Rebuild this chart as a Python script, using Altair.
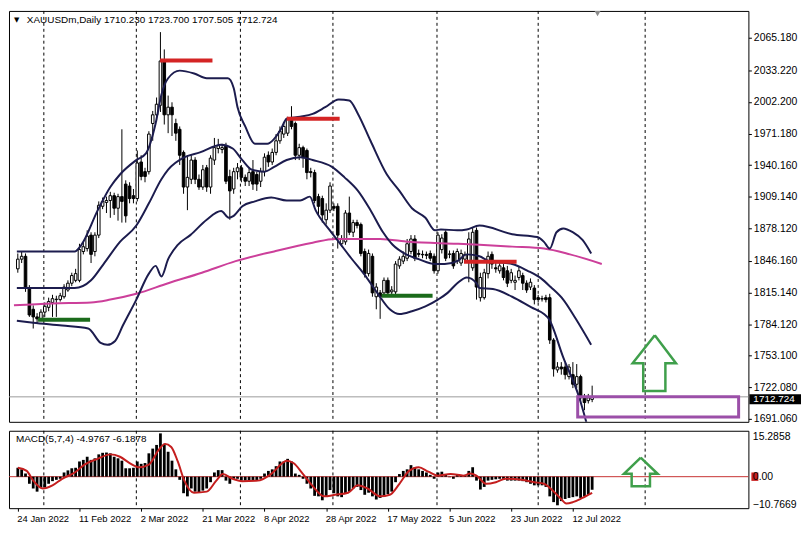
import altair as alt
import pandas as pd

W = 745
H_MAIN = 414
H_MACD = 78
FONT = "Liberation Sans"

X_DOMAIN = [-1, 188.25]
P_DOMAIN = [1688.2, 2091.6]
M_DOMAIN = [-12.0, 17.5]

# ---------------- candles (bar index 0..149) ----------------
opens = [1838.4, 1847.9, 1850.7, 1819.5, 1798.7, 1791.2, 1789.3, 1795.9, 1800.6, 1805.4,
         1808.2, 1808.2, 1811.0, 1817.6, 1824.3, 1827.1, 1827.1, 1855.4, 1858.3, 1871.5,
         1855.4, 1871.5, 1899.8, 1903.6, 1905.5, 1910.2, 1897.9, 1909.3, 1921.6, 1919.7,
         1910.2, 1907.4, 1943.3, 1933.8, 1933.8, 1981.1, 1989.6, 1999.0, 2042.5, 1989.6,
         1997.1, 1981.1, 1975.4, 1952.7, 1918.7, 1926.3, 1945.2, 1926.3, 1918.7, 1937.6,
         1918.7, 1945.2, 1956.5, 1955.6, 1959.3, 1929.1, 1916.8, 1933.8, 1937.6, 1928.2,
         1924.4, 1933.8, 1931.0, 1924.4, 1933.8, 1949.9, 1943.3, 1952.7, 1964.1, 1970.7,
         1971.6, 1985.8, 1981.1, 1949.9, 1957.4, 1954.6, 1933.8, 1932.9, 1909.3, 1907.4,
         1886.6, 1896.0, 1899.8, 1899.8, 1863.0, 1864.9, 1893.2, 1874.3, 1883.8, 1881.9,
         1855.4, 1833.7, 1850.7, 1811.0, 1814.8, 1814.8, 1827.1, 1815.8, 1815.8, 1841.3,
         1846.0, 1848.8, 1855.4, 1867.7, 1853.5, 1852.6, 1852.6, 1853.5, 1850.7, 1836.5,
         1857.3, 1874.3, 1852.6, 1853.5, 1846.0, 1844.1, 1847.9, 1846.0, 1839.4, 1876.2,
         1810.1, 1810.1, 1833.7, 1852.6, 1839.4, 1836.5, 1839.4, 1836.5, 1827.1, 1825.2,
         1829.9, 1831.8, 1824.3, 1820.5, 1819.5, 1810.1, 1809.1, 1810.1, 1810.1, 1768.5,
         1739.2, 1742.0, 1742.0, 1732.6, 1734.5, 1725.1, 1732.6, 1711.8, 1709.0, 1710.23]
highs = [1853.5, 1855.4, 1853.5, 1822.4, 1802.5, 1794.9, 1798.7, 1805.4, 1810.1, 1812.9,
         1812.0, 1814.8, 1823.3, 1827.1, 1834.6, 1838.4, 1863.0, 1864.9, 1876.2, 1874.3,
         1874.3, 1904.6, 1908.4, 1909.3, 1914.0, 1913.1, 1912.1, 1975.4, 1925.3, 1923.4,
         1916.8, 1954.6, 1949.9, 1937.6, 1973.5, 1993.4, 2006.6, 2070.8, 2053.8, 2008.5,
         2001.9, 1985.8, 1978.2, 1954.6, 1949.9, 1949.9, 1948.0, 1931.0, 1940.4, 1940.4,
         1949.9, 1966.9, 1966.0, 1961.2, 1962.2, 1935.7, 1937.6, 1942.3, 1940.4, 1931.0,
         1937.6, 1945.2, 1933.8, 1937.6, 1951.8, 1953.7, 1956.5, 1970.7, 1978.2, 1981.1,
         1987.7, 1998.1, 1983.0, 1961.2, 1959.3, 1956.5, 1937.6, 1935.7, 1912.1, 1910.2,
         1902.7, 1923.4, 1902.7, 1902.7, 1871.5, 1896.0, 1909.3, 1886.6, 1886.6, 1883.8,
         1858.3, 1857.3, 1853.5, 1824.3, 1817.6, 1829.9, 1829.9, 1821.4, 1846.0, 1850.7,
         1855.4, 1867.7, 1871.5, 1871.5, 1857.3, 1856.4, 1855.4, 1856.4, 1853.5, 1874.3,
         1872.4, 1876.2, 1856.4, 1856.4, 1858.3, 1857.3, 1855.4, 1874.3, 1879.0, 1879.0,
         1834.6, 1838.4, 1855.4, 1855.4, 1844.1, 1844.1, 1843.1, 1841.3, 1838.4, 1831.8,
         1840.3, 1834.6, 1827.1, 1829.0, 1822.4, 1812.9, 1812.0, 1812.9, 1813.9, 1770.4,
         1746.8, 1746.8, 1745.8, 1744.9, 1746.8, 1744.9, 1734.5, 1715.6, 1715.6, 1723.7]
lows = [1834.6, 1844.1, 1815.8, 1791.2, 1779.8, 1784.6, 1787.4, 1791.2, 1796.8, 1791.2,
        1791.2, 1806.3, 1809.1, 1815.8, 1821.4, 1825.2, 1825.2, 1852.6, 1855.4, 1844.1,
        1850.7, 1868.6, 1897.0, 1893.2, 1888.5, 1891.3, 1885.7, 1883.8, 1883.8, 1902.7,
        1902.7, 1904.6, 1925.3, 1923.4, 1931.0, 1964.1, 1983.0, 1992.4, 1980.1, 1971.6,
        1968.8, 1964.1, 1940.4, 1912.1, 1896.0, 1921.6, 1921.6, 1915.9, 1915.9, 1914.0,
        1912.1, 1940.4, 1951.8, 1951.8, 1921.6, 1886.6, 1912.1, 1926.3, 1923.4, 1919.7,
        1919.7, 1915.9, 1914.9, 1918.7, 1929.1, 1938.5, 1940.4, 1949.9, 1961.2, 1966.9,
        1968.8, 1975.4, 1945.2, 1945.2, 1937.6, 1926.3, 1928.2, 1902.7, 1891.3, 1883.8,
        1881.9, 1893.2, 1895.1, 1858.3, 1860.1, 1862.0, 1871.5, 1869.6, 1878.1, 1850.7,
        1829.9, 1830.9, 1811.0, 1798.7, 1789.3, 1811.0, 1812.0, 1812.0, 1812.9, 1838.4,
        1843.1, 1846.0, 1852.6, 1846.0, 1849.8, 1848.8, 1847.9, 1846.0, 1833.7, 1833.7,
        1853.5, 1846.0, 1848.8, 1838.4, 1843.1, 1841.3, 1844.1, 1825.2, 1836.5, 1808.2,
        1806.3, 1808.2, 1829.0, 1838.4, 1834.6, 1833.7, 1827.1, 1820.5, 1824.3, 1817.6,
        1827.1, 1817.6, 1814.8, 1817.6, 1803.5, 1805.4, 1806.3, 1805.4, 1764.7, 1732.6,
        1736.4, 1734.5, 1729.8, 1729.8, 1721.3, 1721.3, 1706.2, 1699.6, 1706.2, 1707.505]
closes = [1847.9, 1850.7, 1819.5, 1793.1, 1791.2, 1789.3, 1795.9, 1801.6, 1806.3, 1809.1,
          1808.6, 1812.0, 1820.5, 1824.3, 1831.8, 1833.7, 1857.3, 1860.1, 1870.5, 1852.6,
          1871.5, 1900.8, 1904.6, 1905.5, 1910.2, 1897.9, 1909.3, 1904.6, 1890.4, 1907.4,
          1907.4, 1942.3, 1929.1, 1929.1, 1970.7, 1989.6, 2000.0, 2042.5, 1989.6, 1997.1,
          1989.6, 1971.6, 1949.9, 1918.7, 1928.2, 1945.2, 1926.3, 1918.7, 1935.7, 1918.7,
          1947.1, 1957.4, 1959.3, 1957.4, 1924.4, 1914.9, 1933.8, 1937.6, 1928.2, 1924.4,
          1932.9, 1921.6, 1921.6, 1933.8, 1948.0, 1943.3, 1952.7, 1964.1, 1973.5, 1978.2,
          1985.8, 1978.2, 1949.9, 1957.4, 1948.0, 1932.9, 1932.9, 1905.5, 1899.8, 1891.3,
          1896.0, 1919.7, 1897.9, 1871.5, 1867.7, 1893.2, 1874.3, 1883.8, 1880.9, 1853.5,
          1833.7, 1853.5, 1814.8, 1820.5, 1811.0, 1827.1, 1814.8, 1817.6, 1843.1, 1847.9,
          1850.7, 1863.0, 1867.7, 1848.8, 1852.6, 1852.2, 1851.6, 1848.8, 1836.5, 1871.5,
          1868.6, 1848.8, 1853.0, 1841.3, 1855.4, 1853.5, 1852.6, 1867.7, 1874.3, 1820.5,
          1829.9, 1834.6, 1850.7, 1843.1, 1838.4, 1841.3, 1829.9, 1824.3, 1834.6, 1827.1,
          1836.5, 1824.3, 1817.6, 1825.2, 1808.2, 1808.2, 1808.8, 1808.2, 1768.5, 1740.2,
          1742.0, 1740.2, 1734.5, 1742.0, 1725.1, 1732.6, 1711.8, 1707.1, 1711.8, 1712.724]

# ---------------- indicators ----------------
bb_upper_i = [-0.25, 14.75, 16.5, 20.75, 24, 26.5, 30.75, 33.25, 35.75, 37.25, 39, 42, 45.75, 49,
              54.5, 56, 57, 59, 61.5, 64.75, 66.5, 68.25, 69.75, 73.25, 76.5, 79.75, 83.25, 86,
              88.25, 91.5, 95.75, 99, 102.25, 105.75, 108.25, 109.75, 114, 116.5, 119.75, 128.25,
              134.75, 136.5, 138, 139.75, 141.5, 144, 146.5, 148.75]
bb_upper_p = [1855.4, 1855.4, 1862.0, 1896.0, 1918.7, 1931.0, 1945.2, 1951.8, 1981.1, 2009.4,
              2025.5, 2033.0, 2030.2, 2025.5, 2025.5, 2016.0, 1997.1, 1978.2, 1961.2, 1961.2,
              1966.0, 1975.4, 1985.8, 1987.7, 1990.5, 1997.1, 2004.7, 2003.7, 1990.5, 1964.1,
              1931.0, 1914.9, 1897.9, 1888.5, 1876.2, 1877.1, 1876.2, 1877.1, 1880.9, 1872.4,
              1869.6, 1864.9, 1858.3, 1874.3, 1878.1, 1874.3, 1866.8, 1853.5]
bb_mid_i = [-0.25, 14.75, 19, 22.25, 26.5, 30.75, 34, 37.25, 39, 43.25, 47.25, 52.75, 55.75,
            58.25, 60.75, 64, 66.5, 69.75, 73.25, 76.5, 81.5, 84.75, 88.25, 91.5, 94.75, 97.25,
            100.75, 104, 108.25, 110.75, 114, 116.5, 119.75, 122.25, 128.25, 132.25, 135.75,
            138.25, 141.5, 144.75, 148.75]
bb_mid_p = [1819.5, 1819.5, 1827.1, 1843.1, 1864.9, 1880.9, 1902.7, 1926.3, 1935.7, 1948.0,
            1952.7, 1960.3, 1956.5, 1945.2, 1935.7, 1933.8, 1938.5, 1945.2, 1948.0, 1945.2,
            1938.5, 1928.2, 1914.9, 1896.0, 1874.3, 1862.0, 1852.6, 1847.9, 1843.1, 1843.1,
            1846.0, 1852.6, 1850.7, 1846.0, 1843.1, 1836.5, 1829.0, 1820.5, 1808.2, 1789.3,
            1763.8]
bb_low_i = [-0.25, 4, 11.5, 18.25, 21.5, 23.25, 25.25, 27.25, 30.75, 34, 35.75, 37.25, 39, 41.5,
            44.75, 49, 52.75, 54.75, 56, 58.25, 61.5, 65.75, 69.75, 73.25, 75.75, 77.25, 80.75,
            83.25, 86.5, 89.75, 93.25, 96.5, 99, 102.25, 105.75, 109, 111.5, 114, 116.5, 119,
            119.75, 123.25, 128.25, 133.25, 136.5, 137.75, 141.5, 145.75, 148]
bb_low_p = [1787.4, 1785.5, 1782.7, 1779.8, 1765.7, 1763.8, 1767.6, 1782.7, 1808.2, 1833.7,
            1841.3, 1830.9, 1847.9, 1862.0, 1871.5, 1886.6, 1895.1, 1888.5, 1890.4, 1899.8,
            1904.6, 1908.4, 1905.5, 1905.5, 1909.3, 1896.0, 1877.1, 1864.9, 1848.8, 1833.7,
            1814.8, 1798.7, 1794.0, 1796.8, 1801.6, 1808.2, 1814.8, 1824.3, 1829.9, 1824.3,
            1819.5, 1818.6, 1811.0, 1800.6, 1794.0, 1789.3, 1751.5, 1710.9, 1680.7]
ma_i = [-1, 9, 19, 24, 30.75, 39, 47.75, 56.5, 66.5, 76.5, 82.25, 94, 101.5, 114, 119.75,
        128.25, 136.5, 143.25, 151.5]
ma_p = [1802.6, 1804.4, 1805.4, 1808.2, 1813.9, 1824.3, 1834.6, 1846.0, 1855.5, 1864.0,
        1867.8, 1867.8, 1864.9, 1863.0, 1862.0, 1860.2, 1858.3, 1852.6, 1843.2]

macd_hist = [3.4, 2.8, 1.2, -2.7, -4.5, -5.7, -4.1, -4.1, -2.7, -1.7,
             -1.2, -0.8, 1.6, 2.4, 3.2, 3.4, 5.8, 6.4, 7.6, 6.4,
             7.0, 8.5, 9.1, 9.2, 8.9, 7.6, 7.0, 6.1, 3.2, 3.2,
             3.4, 5.8, 4.9, 5.2, 8.9, 10.7, 12.1, 16.5, 12.5, 9.5,
             6.1, 2.8, -1.2, -6.3, -7.5, -4.5, -5.7, -6.1, -5.3, -4.5,
             -2.1, 1.6, 2.5, 2.5, -1.5, -2.7, -0.8, -0.8, -1.5, -1.5,
             -1.5, -1.5, -1.5, -0.8, 1.2, 2.2, 2.8, 4.0, 5.8, 5.8,
             6.8, 5.8, 1.2, 0.7, -0.8, -2.7, -4.5, -7.3, -7.5, -9.0,
             -7.5, -5.1, -6.3, -7.5, -7.8, -6.3, -5.7, -4.5, -3.9, -5.1,
             -6.9, -6.1, -7.5, -8.7, -8.1, -7.5, -6.6, -5.7, -2.1, 1.0,
             2.2, 2.8, 4.4, 3.6, 2.8, 2.2, 1.6, 0.7, -0.8, 1.6,
             1.9, 1.0, -0.2, -0.8, 0.7, 0.5, 0.7, 2.2, 3.6, -1.5,
             -4.9, -3.9, -1.5, -1.2, -1.0, -0.8, -1.2, -1.5, -1.5, -1.5,
             -1.5, -1.7, -2.1, -2.7, -3.3, -3.3, -3.3, -3.9, -7.5, -9.7,
             -10.9, -9.3, -8.5, -8.1, -7.8, -7.5, -8.1, -7.5, -6.9, -4.98]
sig_i = [0, 2.3, 4, 6.5, 9, 11.5, 14.8, 17.3, 20.7, 24, 26.5, 29, 31.5, 34, 36.5, 38.2, 39.8,
         41.5, 43.2, 45.7, 49, 51.5, 53.2, 55.7, 58.2, 62.3, 65.7, 69.8, 71.5, 74, 76.5, 79.5,
         82.3, 85.7, 88.2, 90.7, 94, 96.5, 99, 101.5, 104, 106.5, 109, 112.3, 115.7, 117.3, 119,
         121.5, 124, 126.5, 130.7, 134, 136.5, 138.2, 140.7, 142.3, 144, 146.5, 149]
sig_v = [3.4, 2.2, -1.5, -4.5, -3.3, -0.8, 1.6, 4.6, 6.8, 8.5, 7.6, 5.2, 3.6, 4.6, 10.1, 12.5,
         11.3, 5.8, -1.5, -6.1, -5.7, -1.5, 1.0, -0.8, -1.7, -1.5, 1.0, 6.1, 5.2, 1.0, -3.6,
         -7.5, -6.9, -6.1, -3.3, -4.5, -7.5, -6.9, -2.7, 2.2, 3.6, 1.9, 0.4, 1.0, 0.4, 1.2, 0.4,
         -2.7, -2.1, -0.8, -1.2, -2.1, -2.7, -4.5, -8.1, -10.2, -9.7, -8.1, -6.19]

# ---------------- annotations ----------------
month_sep = [6.75, 30.75, 57.75, 81.75, 108.75, 135, 162.75]
red_x1 = [36.9, 69.75, 115.75]
red_x2 = [50.5, 83.5, 129.4]
red_p = [2043.0, 1985.8, 1845.3]
green_x1 = [5.25, 94.4]
green_x2 = [18.75, 107.6]
green_p = [1788.4, 1812.0]
box_x = [145.25, 187.0]
box_p = [1712.8, 1693.0]
arrow_main_i = [165.25, 170.75, 168, 168, 162.25, 162.25, 159.5, 165.25]
arrow_main_p = [1773.2, 1745.8, 1745.8, 1718.4, 1718.4, 1745.8, 1745.8, 1773.2]
arrow_macd_i = [161.6, 166, 164, 164, 159.25, 159.25, 157.25, 161.6]
arrow_macd_v = [7.28, 1.09, 1.09, -3.64, -3.64, 1.09, 1.09, 7.28]
last_price = 1712.724

price_ticks = [2065.18, 2033.22, 2002.2, 1971.18, 1940.16, 1909.14, 1878.12, 1846.16,
               1815.14, 1784.12, 1753.1, 1722.08, 1691.06]
macd_ticks = [15.2858, 0, -10.7669]
tick_idx = [0, 16, 32, 48, 64, 80, 96, 112, 128, 144]
tick_labels = ["24 Jan 2022", "11 Feb 2022", "2 Mar 2022", "21 Mar 2022", "8 Apr 2022",
               "28 Apr 2022", "17 May 2022", "5 Jun 2022", "23 Jun 2022", "12 Jul 2022"]
title_txt = "XAUUSDm,Daily  1710.230 1723.700 1707.505 1712.724"
macd_txt = "MACD(5,7,4) -4.9767 -6.1878"

# ---------------- axes ----------------
price_axis = alt.Axis(orient="right", values=price_ticks, format=".3f", tickSize=3,
                      tickColor="black", labelPadding=2, labelFont=FONT, labelFontSize=10.5,
                      labelColor="black", domain=False, grid=False, title=None,
                      labelOverlap=False, labelFlush=False)
macd_axis = alt.Axis(orient="right", values=macd_ticks, ticks=False, tickSize=0, labelPadding=4,
                     labelFont=FONT, labelFontSize=10.5, labelColor="black", domain=False, grid=False,
                     title=None, labelOverlap=False, labelFlush=False, zindex=1,
                     labelExpr="datum.value == 0 ? '0.00' : format(datum.value, '.4f')")
label_js = "[" + ",".join(f"'{t}'" for t in tick_labels) + "]"
x_axis = alt.Axis(values=tick_idx, labelExpr=f"{label_js}[round(datum.value / 16)]", labelAlign="left",
                  tickSize=3, tickColor="black", labelPadding=2, domain=False, grid=False, title=None,
                  labelFont=FONT, labelFontSize=9.5, labelColor="black", labelFlush=False,
                  labelOverlap=False, labelOffset=-1)

# ---------------- helpers (same axis object in every layer) ----------------
def xs(f):
    return alt.X(f"{f}:Q", scale=alt.Scale(domain=X_DOMAIN, nice=False, zero=False), axis=None)

def xm(f):
    return alt.X(f"{f}:Q", scale=alt.Scale(domain=X_DOMAIN, nice=False, zero=False), axis=x_axis)

def ys(f):
    return alt.Y(f"{f}:Q", scale=alt.Scale(domain=P_DOMAIN, nice=False, zero=False), axis=price_axis)

def ym(f):
    return alt.Y(f"{f}:Q", scale=alt.Scale(domain=M_DOMAIN, nice=False, zero=False), axis=macd_axis)

bars = pd.DataFrame({"i": list(range(len(closes))), "o": opens, "h": highs, "l": lows, "c": closes})
bars["col"] = ["white" if c >= o else "black" for o, c in zip(opens, closes)]

bb = pd.concat([
    pd.DataFrame({"i": bb_upper_i, "p": bb_upper_p, "band": "upper"}),
    pd.DataFrame({"i": bb_mid_i, "p": bb_mid_p, "band": "mid"}),
    pd.DataFrame({"i": bb_low_i, "p": bb_low_p, "band": "low"}),
])

sep_df = pd.DataFrame({"i": month_sep})

sep = alt.Chart(sep_df).mark_rule(color="black", strokeDash=[3, 3], strokeWidth=1).encode(x=xs("i"))

wicks = alt.Chart(bars).mark_rule(color="black", strokeWidth=1).encode(
    x=xs("i"), y=ys("l"), y2="h")
bodies = alt.Chart(bars).mark_bar(size=2.6, stroke="black", strokeWidth=1).encode(
    x=xs("i"), y=ys("o"), y2="c", fill=alt.Fill("col:N", scale=None))

ma = alt.Chart(pd.DataFrame({"i": ma_i, "p": ma_p})).mark_line(
    color="#cc3f9a", strokeWidth=2, interpolate="monotone", clip=True).encode(x=xs("i"), y=ys("p"))
bands = alt.Chart(bb).mark_line(color="#1c1c4e", strokeWidth=2, interpolate="monotone", clip=True).encode(
    x=xs("i"), y=ys("p"), detail="band:N")

cur_line = alt.Chart(pd.DataFrame({"p": [last_price]})).mark_rule(color="#9a9a9a", strokeWidth=1).encode(y=ys("p"))

reds = alt.Chart(pd.DataFrame({"x1": red_x1, "x2": red_x2, "p": red_p})).mark_rule(
    color="#d42424", strokeWidth=4).encode(x=xs("x1"), x2="x2", y=ys("p"))
greens = alt.Chart(pd.DataFrame({"x1": green_x1, "x2": green_x2, "p": green_p})).mark_rule(
    color="#1b6b1b", strokeWidth=4).encode(x=xs("x1"), x2="x2", y=ys("p"))

box = alt.Chart(pd.DataFrame({"x1": [box_x[0]], "x2": [box_x[1]], "p1": [box_p[0]], "p2": [box_p[1]]})).mark_rect(
    fillOpacity=0, stroke="#9b4fa8", strokeWidth=3).encode(x=xs("x1"), x2="x2", y=ys("p1"), y2="p2")

arrow_main = alt.Chart(pd.DataFrame({"i": arrow_main_i, "p": arrow_main_p,
                                     "k": list(range(len(arrow_main_i)))})).mark_line(
    color="#3f9f4b", strokeWidth=2.5, strokeJoin="miter").encode(x=xs("i"), y=ys("p"), order="k:Q")

marker = alt.Chart(pd.DataFrame({"i": [150.4], "p": [2090.9]})).mark_point(
    shape="triangle-down", filled=True, color="#8c8c8c", size=110, opacity=1, clip=True).encode(
    x=xs("i"), y=ys("p"))

price_box = alt.Chart(pd.DataFrame({"t": [last_price + 2.6], "b": [last_price - 7.2]})).mark_rect(
    color="black").encode(x=alt.value(W + 1), x2=alt.value(W + 53), y=ys("t"), y2="b")
price_lbl = alt.Chart(pd.DataFrame({"p": [last_price], "lbl": [f"{last_price:.3f}"]})).mark_text(
    align="left", baseline="middle", color="white", font=FONT, fontSize=10, dy=2.5).encode(
    x=alt.value(W + 5), y=ys("p"), text="lbl:N")

title_mark = alt.Chart(pd.DataFrame({"t": [title_txt]})).mark_text(
    align="left", baseline="middle", font=FONT, fontSize=10, color="black").encode(
    x=alt.value(18), y=alt.value(9), text="t:N")
title_tri = alt.Chart(pd.DataFrame({"t": ["▼"]})).mark_text(
    align="left", baseline="middle", font="DejaVu Sans", fontSize=7, color="black").encode(
    x=alt.value(5), y=alt.value(9), text="t:N")

main = alt.layer(sep, wicks, bodies, ma, bands, cur_line, reds, greens, box, arrow_main,
                 marker, price_box, price_lbl, title_mark, title_tri).properties(width=W, height=H_MAIN)

# ---------------- MACD panel ----------------
hist_df = pd.DataFrame({"i": list(range(len(macd_hist))), "v": macd_hist, "z": 0.0})
m_sep = alt.Chart(sep_df).mark_rule(color="black", strokeDash=[3, 3], strokeWidth=1).encode(x=xm("i"))
zero_line = alt.Chart(pd.DataFrame({"v": [0.0]})).mark_rule(color="#c83232", strokeWidth=1).encode(y=ym("v"))
hist = alt.Chart(hist_df).mark_bar(size=2.8, color="black").encode(x=xm("i"), y=ym("v"), y2="z")
signal = alt.Chart(pd.DataFrame({"i": sig_i, "v": sig_v})).mark_line(
    color="#c41e1e", strokeWidth=2, interpolate="monotone").encode(x=xm("i"), y=ym("v"))
arrow_macd = alt.Chart(pd.DataFrame({"i": arrow_macd_i, "v": arrow_macd_v,
                                     "k": list(range(len(arrow_macd_i)))})).mark_line(
    color="#3f9f4b", strokeWidth=2.5, strokeJoin="miter").encode(x=xm("i"), y=ym("v"), order="k:Q")
zero_box = alt.Chart(pd.DataFrame({"t": [1.6], "b": [-1.6]})).mark_rect(color="#c82020").encode(
    x=alt.value(W + 3), x2=alt.value(W + 10), y=ym("t"), y2="b")
macd_title = alt.Chart(pd.DataFrame({"t": [macd_txt]})).mark_text(
    align="left", baseline="middle", font=FONT, fontSize=10, color="black").encode(
    x=alt.value(7), y=alt.value(8), text="t:N")

macd = alt.layer(m_sep, zero_line, hist, signal, arrow_macd, zero_box, macd_title).properties(
    width=W, height=H_MACD)

chart = alt.vconcat(main, macd, spacing=4).properties(padding=0, background="white").configure_view(
    stroke="black", strokeWidth=1)

chart.save("out.html", embed_options={"renderer": "svg", "actions": False})
